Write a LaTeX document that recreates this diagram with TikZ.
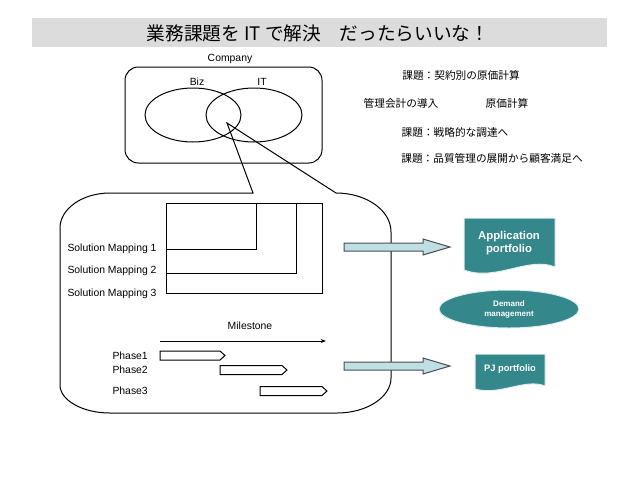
\documentclass[tikz,border=0pt]{standalone}
\usepackage{fontspec}
\setmainfont{Liberation Sans}
\newfontfamily\jp{Noto Sans CJK JP}
\usetikzlibrary{shapes.geometric,arrows.meta}
\definecolor{teal1}{RGB}{52,136,140}
\definecolor{arrowblue}{RGB}{190,224,228}
\definecolor{bargray}{RGB}{220,220,220}
\tikzset{
  every path/.style={line width=0.75pt},
  lbl/.style={font=\fontsize{7.8}{9}\selectfont, inner sep=0pt},
  jptext/.style={font=\jp\fontsize{8}{10}\selectfont, inner sep=0pt},
  venn/.style={ellipse, draw, line width=0.75pt, minimum width=72pt, minimum height=40.5pt},
  bigarrow/.style={draw=black!70, fill=arrowblue},
  phasebar/.style={draw},
  doc/.style={fill=teal1, draw=white!85!teal1},
  doctext/.style={text=white, font=\bfseries\fontsize{8.5}{10}\selectfont, align=center, inner sep=0pt}
}
\begin{document}
\begin{tikzpicture}[x=0.75pt, y=-0.75pt]
		\useasboundingbox (0,0) rectangle (638,479);
		% title bar
		\fill[bargray] (32,18) rectangle (607,47);
		\node[font=\jp\fontsize{14}{16}\selectfont] (title) at (318,33) {業務課題を IT で解決　だったらいいな！};

		% company and the two circles
		\node[lbl] (company) at (230,59) {Company};
		\draw[rounded corners=10pt] (125,67) rectangle (322,163);
		\node[venn] (biz) at (193,115) {};
		\node[venn] (it) at (254,115) {};
		\node[lbl] (bizlbl) at (197,82) {Biz};
		\node[lbl] (itlbl) at (262,82) {IT};
		\coordinate (tip) at (227,123);

		% issues
		\node[jptext] (issue1) at (461,75) {課題：契約別の原価計算};
		\node[jptext] (mgmt) at (401,103) {管理会計の導入};
		\node[jptext] (cost) at (507,103) {原価計算};
		\node[jptext] (issue2) at (455,132) {課題：戦略的な調達へ};
		\node[jptext] (issue3) at (492,158) {課題：品質管理の展開から顧客満足へ};

		% callout
		\draw (253,193) -- (tip) -- (336,193)
			.. controls (366,193) and (391,210) .. (391,232) -- (391,378)
			.. controls (391,397) and (367,413) .. (337,413) -- (110,413)
			.. controls (82,413) and (60,400) .. (60,385) -- (60,228)
			.. controls (60,209) and (82,193) .. (110,193) -- cycle;

		% solution mappings
		\draw (166,203) rectangle (322,293);
		\draw (166,249) -- (256,249) -- (256,203);
		\draw (166,273) -- (296,273) -- (296,203);
		\foreach \i/\y in {1/249, 2/271, 3/294}
			\node[lbl, anchor=west] (sm\i) at (67,\y) {Solution Mapping \i};

		% milestone and phases
		\node[lbl] (milestone) at (250,326) {Milestone};
		\coordinate (msstart) at (160,341);
		\coordinate (msend) at (326,341);
		\draw[-{Stealth[length=4pt]}] (msstart) -- (msend);
		\foreach \i/\a/\b/\y in {1/160/220/355.5, 2/220/282/370, 3/260/322/391}{
			\node[lbl, anchor=west] (ph\i) at (112,\y) {Phase\i};
			\draw[phasebar] (\a,\y-4.5) -- (\b,\y-4.5) -- (\b+5,\y) -- (\b,\y+4.5) -- (\a,\y+4.5) -- cycle;
		}

		% block arrows
		\foreach \y in {247, 366}
			\draw[bigarrow] (344,\y-4) -- (423,\y-4) -- (423,\y-8) -- (450,\y) -- (423,\y+8) -- (423,\y+4) -- (344,\y+4) -- cycle;

		% portfolios
		\draw[doc] (464,218) -- (555,218) -- (555,267)
			.. controls (528,256) and (496,282) .. (464,270) -- cycle;
		\node[doctext] (app) at (509,243) {Application\\portfolio};
		\node[ellipse, fill=teal1, draw=white!85!teal1, minimum width=105pt, minimum height=28.5pt] (demand) at (509,309) {};
		\node[doctext, font=\bfseries\fontsize{6}{7.5}\selectfont] (demandtxt) at (509,309) {Demand\\management};
		\draw[doc] (475,354) -- (545,354) -- (545,386)
			.. controls (525,378) and (500,396) .. (475,389) -- cycle;
		\node[doctext, font=\bfseries\fontsize{7}{8}\selectfont] (pj) at (510,369) {PJ portfolio};
\end{tikzpicture}
\end{document}
